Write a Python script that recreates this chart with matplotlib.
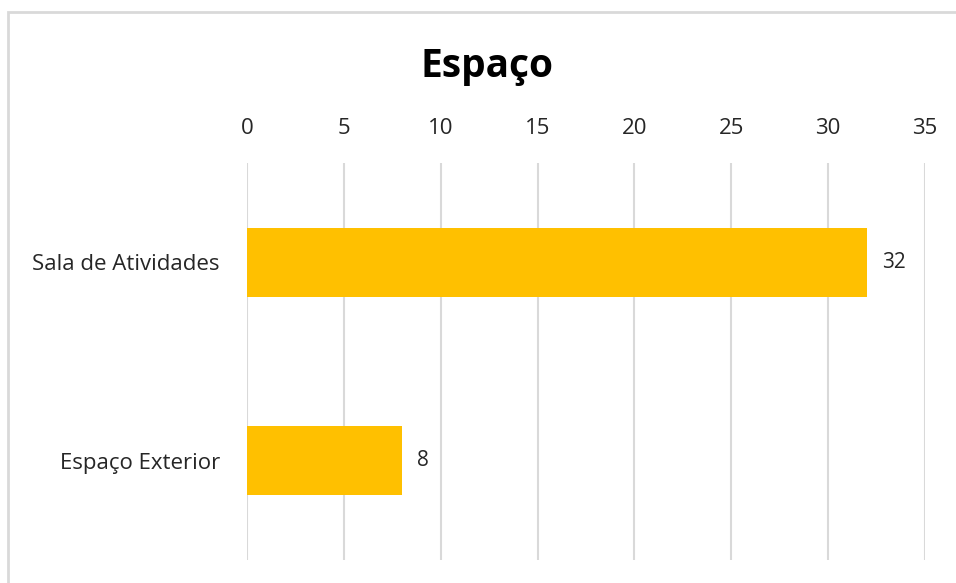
import matplotlib.pyplot as plt
from matplotlib.patches import Rectangle

categories = ['Espaço Exterior', 'Sala de Atividades']
values = [8, 32]
ticks = [0, 5, 10, 15, 20, 25, 30, 35]

plt.rcParams['font.family'] = ['Open Sans', 'DejaVu Sans']

fig = plt.figure(figsize=(9.56, 5.83), dpi=100)
ax = fig.add_axes([0.2584, 0.0395, 0.7092, 0.6809])

# moldura do gráfico
fig.patches.append(Rectangle((8 / 956, -0.1), 1.2, 1 - 12 / 583 + 0.1,
                             transform=fig.transFigure, fill=False,
                             edgecolor='#d9d9d9', linewidth=2))

ax.barh(range(len(categories)), values, height=0.35, color='#FFC000', zorder=3)
for i, v in enumerate(values):
    ax.text(v + 0.8, i, str(v), va='center', ha='left', fontsize=15, color='#262626')

ax.set_xlim(0, 35)
ax.set_ylim(-0.5, 1.5)
ax.set_xticks(ticks)
ax.set_yticks(range(len(categories)))
ax.set_yticklabels(categories)
ax.xaxis.tick_top()
ax.tick_params(axis='both', length=0, labelsize=16, colors='#262626')
ax.tick_params(axis='x', pad=17)
ax.tick_params(axis='y', pad=19.5)
ax.grid(axis='x', color='#d9d9d9', linewidth=1.5, zorder=0)
for s in ax.spines.values():
    s.set_visible(False)

fig.text(487 / 956, 1 - 66 / 583, 'Espaço', ha='center', va='center',
         fontsize=28, fontweight='bold', color='black')

fig.savefig('out.png', dpi=100)
